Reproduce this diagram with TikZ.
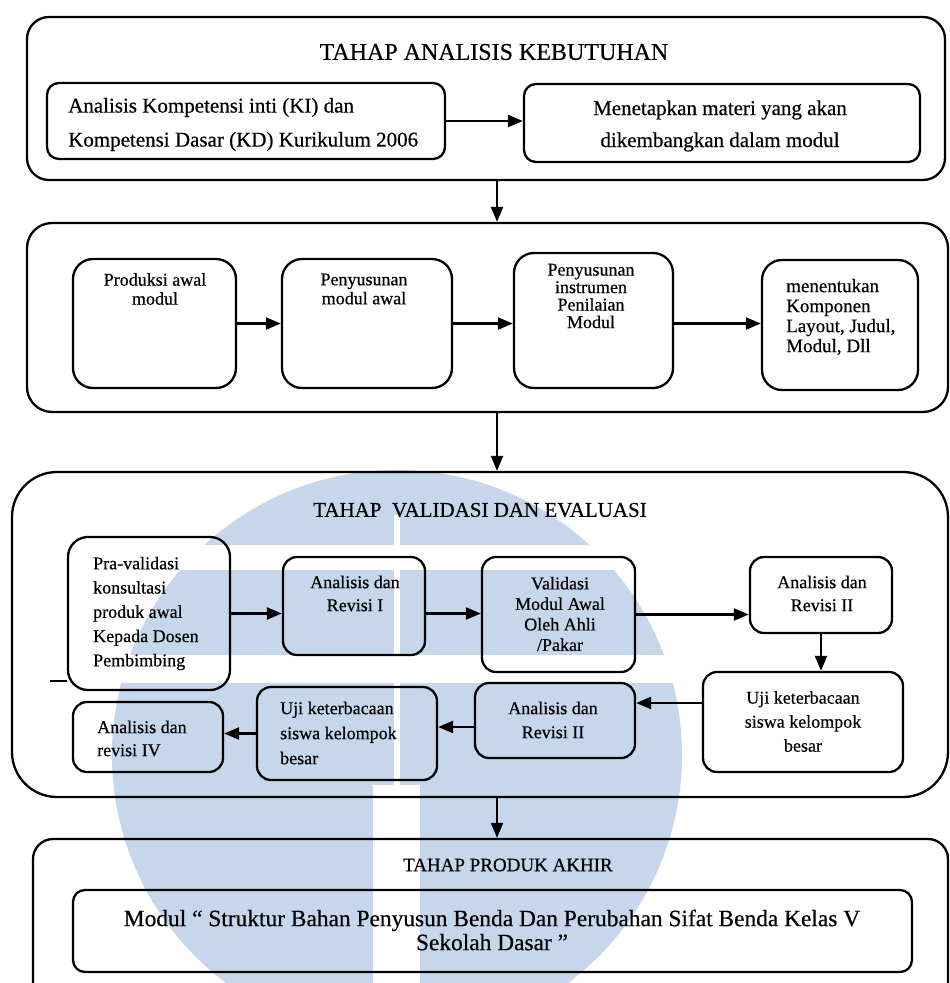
\documentclass[tikz,border=0pt]{standalone}
\usepackage{fontspec}
\setmainfont{Liberation Serif}[FakeBold=0.5]
\usetikzlibrary{arrows.meta}
\definecolor{wm}{RGB}{198,214,235}
\tikzset{
  outer/.style={draw, line width=2.3pt, inner sep=0pt},
  box/.style={draw, line width=2.3pt, rounded corners=14pt, inner sep=0pt},
  arr/.style={line width=2.3pt, -{Triangle[length=15pt,width=12pt]}},
  plain/.style={line width=2.3pt},
  txt/.style={inner sep=0pt, align=center},
  ltxt/.style={inner sep=0pt, align=left, anchor=west},
}
\begin{document}
\begin{tikzpicture}[x=1pt,y=-1pt]
\useasboundingbox (0,0) rectangle (950,983);
\begin{scope}
\clip (0,0) rectangle (950,983);
% watermark
\fill[wm] (397,755) circle (285pt);
\fill[white] (90,545) rectangle (710,570);
\fill[white] (90,655) rectangle (710,683);
\fill[white] (394,515) rectangle (400,785);
\fill[white] (373,785) rectangle (420,1050);

\coordinate (ax) at (497,0);

% stage 1
\node[outer, rounded corners=22pt, minimum width=918pt, minimum height=163pt] (b1) at (486,98.5) {};
\node[txt, font=\fontsize{24}{28}\selectfont] (t1) at (494,52) {TAHAP ANALISIS KEBUTUHAN};
\node[box, rounded corners=12pt, minimum width=398pt, minimum height=76pt] (a1) at (246,121) {};
\node[ltxt, font=\fontsize{21}{34}\selectfont] (a1t) at (68,124.5) {Analisis Kompetensi inti (KI) dan\\Kompetensi Dasar (KD) Kurikulum 2006};
\node[box, rounded corners=12pt, minimum width=396pt, minimum height=78pt] (a2) at (722,123) {};
\node[txt, font=\fontsize{21}{32}\selectfont] (a2t) at (720,126) {Menetapkan materi yang akan\\dikembangkan dalam modul};
\draw[arr] (a1.east) -- (a1.east -| a2.west);

% stage 2
\node[outer, rounded corners=25pt, minimum width=921pt, minimum height=189pt] (b2) at (487.5,317.5) {};
\draw[arr] (b1.south -| ax) -- (b2.north -| ax);
\node[box, rounded corners=20pt, minimum width=163pt, minimum height=129pt] (p1) at (154.5,323.5) {};
\node[txt, font=\fontsize{18}{19}\selectfont] (p1t) at (155,289) {Produksi awal\\modul};
\node[box, rounded corners=20pt, minimum width=170pt, minimum height=129pt] (p2) at (367,323.5) {};
\node[txt, font=\fontsize{18}{19}\selectfont] (p2t) at (364,289) {Penyusunan\\modul awal};
\node[box, rounded corners=20pt, minimum width=159pt, minimum height=135pt] (p3) at (593.5,320.5) {};
\node[txt, font=\fontsize{18}{17.5}\selectfont] (p3t) at (591,296) {Penyusunan\\instrumen\\Penilaian\\Modul};
\node[box, rounded corners=20pt, minimum width=156pt, minimum height=130pt] (p4) at (840,325) {};
\node[ltxt, font=\fontsize{19}{20}\selectfont] (p4t) at (786,317) {menentukan\\Komponen\\Layout, Judul,\\Modul, Dll};
\draw[arr] (p1.east) -- (p1.east -| p2.west);
\draw[arr] (p2.east) -- (p2.east -| p3.west);
\draw[arr] (p2.east -| p3.east) -- (p2.east -| p4.west);

% stage 3
\node[outer, rounded corners=45pt, minimum width=936pt, minimum height=325pt] (b3) at (480,634.5) {};
\draw[arr] (b2.south -| ax) -- (b3.north -| ax);
\node[txt, font=\fontsize{21}{24}\selectfont] (t3) at (480,510) {TAHAP\ \ VALIDASI DAN EVALUASI};
\node[box, rounded corners=20pt, minimum width=162pt, minimum height=153pt] (v1) at (149,613.5) {};
\node[ltxt, font=\fontsize{18}{24.25}\selectfont] (v1t) at (93,613.5) {Pra-validasi\\konsultasi\\produk awal\\Kepada Dosen\\Pembimbing};
\coordinate (stub) at (50,681);
\draw[plain] (stub) -- (v1.west |- stub);
\node[box, minimum width=142pt, minimum height=98pt] (v2) at (354,606) {};
\node[txt, font=\fontsize{18}{23}\selectfont] (v2t) at (355,593.5) {Analisis dan\\Revisi I};
\node[box, minimum width=153pt, minimum height=115pt] (v3) at (558.5,614.5) {};
\node[txt, font=\fontsize{18}{20.5}\selectfont] (v3t) at (560,614) {Validasi\\Modul Awal\\Oleh Ahli\\/Pakar};
\node[box, minimum width=142pt, minimum height=76pt] (v4) at (821,595) {};
\node[txt, font=\fontsize{18}{23}\selectfont] (v4t) at (822,593.5) {Analisis dan\\Revisi II};
\node[box, minimum width=200pt, minimum height=100pt] (v5) at (803,722) {};
\node[txt, font=\fontsize{18}{24}\selectfont] (v5t) at (803,721.5) {Uji keterbacaan\\siswa kelompok\\besar};
\node[box, minimum width=160pt, minimum height=75pt] (v6) at (555,720.5) {};
\node[txt, font=\fontsize{18}{24}\selectfont] (v6t) at (553,720) {Analisis dan\\Revisi II};
\node[box, minimum width=180pt, minimum height=93pt] (v7) at (347,733.5) {};
\node[ltxt, font=\fontsize{18}{25}\selectfont] (v7t) at (280,733) {Uji keterbacaan\\siswa kelompok\\besar};
\node[box, minimum width=150pt, minimum height=70pt] (v8) at (148,737) {};
\node[ltxt, font=\fontsize{18}{23}\selectfont] (v8t) at (97,738.5) {Analisis dan\\revisi IV};
\draw[arr] (v1.east) -- (v1.east -| v2.west);
\draw[arr] (v2.east |- v1.east) -- (v3.west |- v1.east);
\draw[arr] (v3.east) -- (v3.east -| v4.west);
\draw[arr] (v4.south) -- (v4.south |- v5.north);
\draw[arr] ([yshift=19pt]v5.west) -- ([yshift=19pt]v5.west -| v6.east);
\draw[arr] ([yshift=-6.5pt]v6.west) -- ([yshift=-6.5pt]v6.west -| v7.east);
\draw[arr] (v7.west) -- (v7.west -| v8.east);

% stage 4
\node[outer, rounded corners=20pt, minimum width=915pt, minimum height=171pt] (b4) at (490.5,924.5) {};
\draw[arr] (b3.south -| ax) -- (b4.north -| ax);
\node[txt, font=\fontsize{19}{22}\selectfont] (t4) at (508,865) {TAHAP PRODUK AKHIR};
\node[box, rounded corners=12pt, minimum width=839pt, minimum height=82pt] (f1) at (492.5,931) {};
\node[txt, font=\fontsize{23.4}{24}\selectfont] (f1t) at (492,930) {Modul “ Struktur Bahan Penyusun Benda Dan Perubahan Sifat Benda Kelas V\\Sekolah Dasar ”};
\end{scope}
\end{tikzpicture}
\end{document}
